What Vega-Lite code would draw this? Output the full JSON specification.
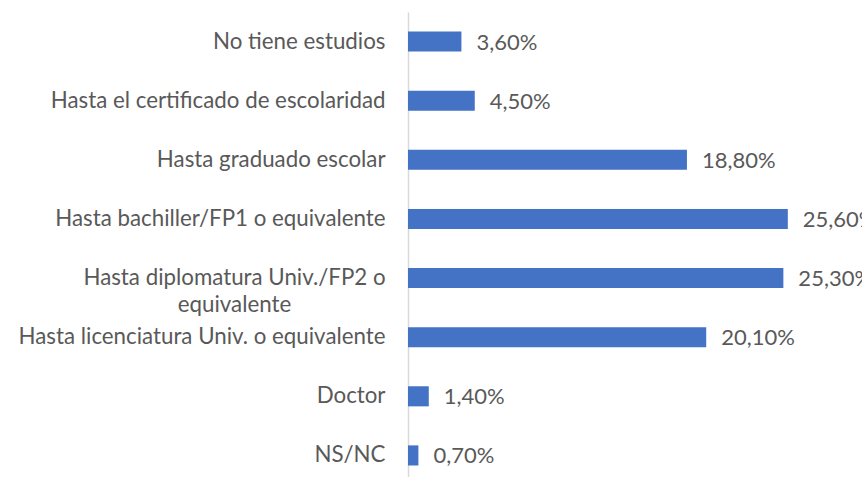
{
  "$schema": "https://vega.github.io/schema/vega-lite/v6.json",
  "autosize": "none",
  "padding": {"left": 408, "top": 12, "right": 0, "bottom": 0},
  "width": 454,
  "height": 473,
  "background": "white",
  "config": {"view": {"stroke": null}, "font": "Lato"},
  "data": {
    "values": [
      {"nivel": "No tiene estudios", "pct": 3.6, "label": "3,60%"},
      {"nivel": "Hasta el certificado de escolaridad", "pct": 4.5, "label": "4,50%"},
      {"nivel": "Hasta graduado escolar", "pct": 18.8, "label": "18,80%"},
      {"nivel": "Hasta bachiller/FP1 o equivalente", "pct": 25.6, "label": "25,60%"},
      {"nivel": "Hasta diplomatura Univ./FP2 o equivalente", "pct": 25.3, "label": "25,30%"},
      {"nivel": "Hasta licenciatura Univ. o equivalente", "pct": 20.1, "label": "20,10%"},
      {"nivel": "Doctor", "pct": 1.4, "label": "1,40%"},
      {"nivel": "NS/NC", "pct": 0.7, "label": "0,70%"}
    ]
  },
  "encoding": {
    "y": {
      "field": "nivel",
      "type": "nominal",
      "sort": null,
      "scale": {"paddingInner": 0.66, "paddingOuter": 0.33},
      "axis": {
        "title": null,
        "ticks": false,
        "domainColor": "#D9D9D9",
        "domainWidth": 1.5,
        "labelFont": "Lato",
        "labelFontSize": 22.3,
        "labelColor": "#595959",
        "labelLimit": 420,
        "labelLineHeight": 27,
        "labelPadding": {"condition": {"test": "indexof(datum.value, 'diplomatura') >= 0", "value": 174}, "value": 23},
        "labelAlign": {"condition": {"test": "indexof(datum.value, 'diplomatura') >= 0", "value": "center"}, "value": "right"},
        "labelExpr": "indexof(datum.value, 'diplomatura') >= 0 ? ['Hasta diplomatura Univ./FP2 o', 'equivalente'] : datum.value"
      }
    }
  },
  "layer": [
    {
      "mark": {"type": "bar", "color": "#4472C4"},
      "encoding": {
        "x": {"field": "pct", "type": "quantitative", "scale": {"domain": [0, 30.6], "nice": false}, "axis": null}
      }
    },
    {
      "mark": {"type": "text", "align": "left", "baseline": "middle", "dx": 15, "dy": 1, "fontSize": 22, "font": "Lato", "color": "#595959"},
      "encoding": {
        "x": {"field": "pct", "type": "quantitative"},
        "text": {"field": "label"}
      }
    }
  ]
}
